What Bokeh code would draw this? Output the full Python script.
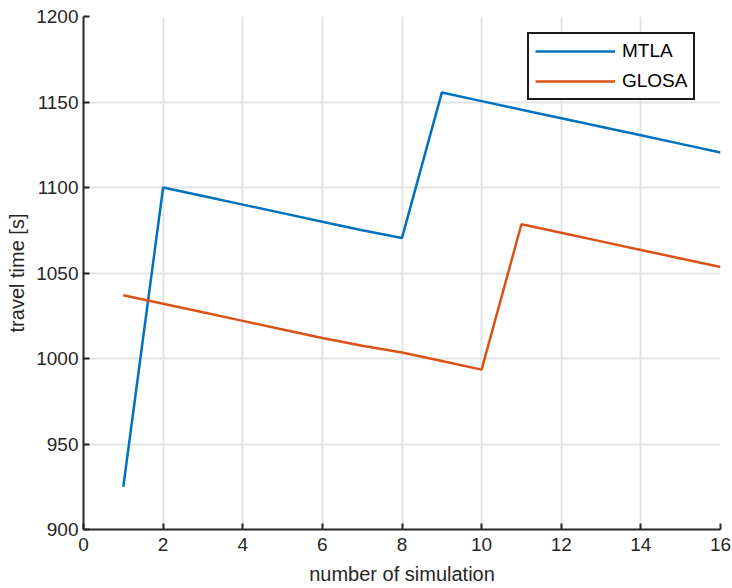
from bokeh.plotting import figure
from bokeh.models import Range1d, FixedTicker, Legend, LegendItem
from bokeh.embed import file_html
from bokeh.resources import INLINE

# simulation runs
runs = list(range(1, 17))

# travel time per run [s]
mtla = [925, 1100, 1095, 1090, 1085, 1080, 1075, 1070.5,
        1155.5, 1150.5, 1145.5, 1140.5, 1135.5, 1130.5, 1125.5, 1120.5]
glosa = [1037, 1032, 1027, 1022, 1017, 1012, 1007.5, 1003.5,
         998.5, 993.5, 1078.5, 1073.5, 1068.5, 1063.5, 1058.5, 1053.5]

x_ticks = [0, 2, 4, 6, 8, 10, 12, 14, 16]
y_ticks = [900, 950, 1000, 1050, 1100, 1150, 1200]

FONT = "Liberation Sans"
AX = "#262626"

p = figure(width=732, height=588, output_backend="svg", toolbar_location=None,
           x_range=Range1d(0, 16), y_range=Range1d(900, 1200),
           min_border_left=83, min_border_right=12,
           min_border_top=16, min_border_bottom=59)
p.outline_line_color = None
p.background_fill_color = "white"
p.border_fill_color = "white"

r1 = p.line(runs, mtla, line_color="#0072BD", line_width=2.5)
r2 = p.line(runs, glosa, line_color="#D95319", line_width=2.5)

p.xaxis.ticker = FixedTicker(ticks=x_ticks)
p.yaxis.ticker = FixedTicker(ticks=y_ticks)
p.xaxis.axis_label = "number of simulation"
p.yaxis.axis_label = "travel time [s]"

for ax in (p.xaxis, p.yaxis):
    ax.axis_line_color = AX
    ax.axis_line_width = 2
    ax.major_tick_line_color = AX
    ax.major_tick_line_width = 2
    ax.major_tick_in = 6
    ax.major_tick_out = 0
    ax.minor_tick_line_color = None
    ax.major_label_text_font = FONT
    ax.major_label_text_font_size = "19px"
    ax.major_label_text_color = AX
    ax.axis_label_text_font = FONT
    ax.axis_label_text_font_size = "20px"
    ax.axis_label_text_font_style = "normal"
    ax.axis_label_text_color = AX

p.xaxis.major_label_standoff = 8
p.xaxis.axis_label_standoff = 9
p.yaxis.major_label_standoff = 5
p.yaxis.axis_label_standoff = 5

p.grid.grid_line_color = "#e3e3e3"
p.grid.grid_line_width = 2

legend = Legend(items=[LegendItem(label="MTLA", renderers=[r1]),
                       LegendItem(label="GLOSA", renderers=[r2])],
                location=(444, 429))
legend.border_line_color = "#1a1a1a"
legend.border_line_alpha = 1
legend.border_line_width = 2
legend.label_text_font = FONT
legend.label_text_font_size = "19px"
legend.label_text_color = "black"
legend.glyph_width = 80
legend.glyph_height = 20
legend.label_height = 20
legend.spacing = 8
legend.padding = 6
legend.margin = 0
legend.label_standoff = 7
legend.background_fill_alpha = 1
p.add_layout(legend)

open("out.html", "w").write(file_html(p, INLINE))
